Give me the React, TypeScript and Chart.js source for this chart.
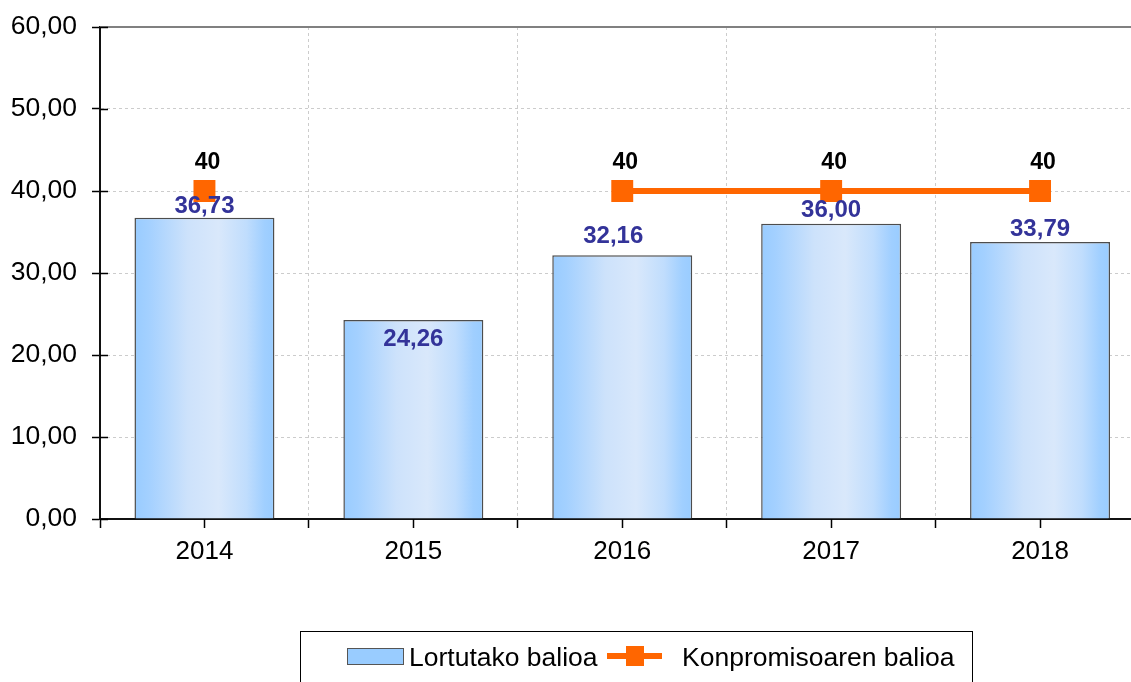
import React, { useEffect, useRef } from 'react';
import { Chart, registerables } from 'chart.js';

Chart.register(...registerables);

// ---- data ----
const categories = ['2014', '2015', '2016', '2017', '2018'];
const achievedValues = [36.73, 24.26, 32.16, 36.0, 33.79];
const commitmentValues: (number | null)[] = [40, null, 40, 40, 40];
const seriesNames = ['Lortutako balioa', 'Konpromisoaren balioa'];
const yMin = 0;
const yMax = 60;
const yStep = 10;

// ---- style / layout ----
const FONT = "'Liberation Sans', Arial, sans-serif";
const ORANGE = '#ff6600';
const LABEL_BLUE = '#333399';
// label shift [dx, dy] relative to top-centre of each bar (text centre)
const barLabelShift: [number, number][] = [
  [0, -11],
  [0, 19],
  [-9, -19],
  [0, -13.5],
  [0, -13],
];

const fmt = (v: number) => v.toFixed(2).replace('.', ',');

function barGradient(ctx: CanvasRenderingContext2D, x0: number, x1: number) {
  const g = ctx.createLinearGradient(x0, 0, x1, 0);
  g.addColorStop(0, '#99ccff');
  g.addColorStop(0.1, '#a3d0ff');
  g.addColorStop(0.38, '#cde2fb');
  g.addColorStop(0.6, '#d9e8fb');
  g.addColorStop(0.8, '#c0ddfd');
  g.addColorStop(0.93, '#a0cfff');
  g.addColorStop(1, '#99ccff');
  return g;
}

const decorPlugin = {
  id: 'decor',
  afterDatasetsDraw(chart: any) {
    const { ctx, scales } = chart;
    const x = scales.x;
    const y = scales.y;
    ctx.save();
    // bar value labels
    ctx.font = `bold 24px ${FONT}`;
    ctx.textAlign = 'center';
    ctx.textBaseline = 'middle';
    ctx.fillStyle = LABEL_BLUE;
    achievedValues.forEach((v, i) => {
      const px = x.getPixelForValue(i) + barLabelShift[i][0];
      const py = y.getPixelForValue(v) + barLabelShift[i][1];
      ctx.fillText(fmt(v), px, py);
    });
    // commitment labels
    ctx.font = `bold 23px ${FONT}`;
    ctx.fillStyle = '#000';
    commitmentValues.forEach((v, i) => {
      if (v == null) return;
      const px = x.getPixelForValue(i) + 3;
      const py = y.getPixelForValue(v) - 28;
      ctx.fillText(String(v), px, py);
    });
    ctx.restore();
  },
  afterDraw(chart: any) {
    const { ctx, scales, chartArea } = chart;
    const x = scales.x;
    const y = scales.y;
    ctx.save();
    // top border of plot
    ctx.strokeStyle = '#808080';
    ctx.lineWidth = 2;
    ctx.beginPath();
    ctx.moveTo(chartArea.left, chartArea.top);
    ctx.lineTo(chartArea.right, chartArea.top);
    ctx.stroke();
    // inner halves of y ticks (cross ticks)
    ctx.strokeStyle = '#000';
    ctx.lineWidth = 1.5;
    for (let v = yMin; v <= yMax; v += yStep) {
      const py = Math.round(y.getPixelForValue(v)) + 0.5;
      ctx.beginPath();
      ctx.moveTo(chartArea.left, py);
      ctx.lineTo(chartArea.left + 8, py);
      ctx.stroke();
    }
    // centre ticks on x axis
    categories.forEach((_, i) => {
      const px = Math.round(x.getPixelForValue(i)) + 0.5;
      ctx.beginPath();
      ctx.moveTo(px, chartArea.bottom);
      ctx.lineTo(px, chartArea.bottom + 9);
      ctx.stroke();
    });

    // legend
    const bx = 300.5;
    const by = 631.5;
    ctx.fillStyle = '#fff';
    ctx.fillRect(bx, by, 672, 60);
    ctx.strokeStyle = '#000';
    ctx.lineWidth = 1;
    ctx.strokeRect(bx, by, 672, 60);
    // bar swatch
    ctx.fillStyle = '#99ccff';
    ctx.fillRect(347, 648, 56, 16);
    ctx.strokeStyle = '#555';
    ctx.strokeRect(347.5, 648.5, 56, 16);
    // line swatch
    ctx.strokeStyle = ORANGE;
    ctx.lineWidth = 6;
    ctx.beginPath();
    ctx.moveTo(607, 656);
    ctx.lineTo(662, 656);
    ctx.stroke();
    ctx.fillStyle = ORANGE;
    ctx.fillRect(626, 646, 18, 20);
    // legend text
    ctx.fillStyle = '#000';
    ctx.font = `26.5px ${FONT}`;
    ctx.textAlign = 'left';
    ctx.textBaseline = 'alphabetic';
    ctx.fillText(seriesNames[0], 409, 666);
    ctx.fillText(seriesNames[1], 682, 666);
    ctx.restore();
  },
};

export default function App() {
  const canvasRef = useRef<HTMLCanvasElement | null>(null);

  useEffect(() => {
    document.body.style.margin = '0';
    document.body.style.overflow = 'hidden';
    const canvas = canvasRef.current;
    if (!canvas) return;
    const chart = new Chart(canvas, {
      type: 'bar',
      data: {
        labels: categories,
        datasets: [
          {
            type: 'line',
            label: seriesNames[1],
            data: commitmentValues,
            borderColor: ORANGE,
            backgroundColor: ORANGE,
            borderWidth: 6,
            pointStyle: 'rect',
            pointRadius: 15.5,
            pointHoverRadius: 15.5,
            pointBackgroundColor: ORANGE,
            pointBorderWidth: 0,
            spanGaps: false,
            order: 0,
          } as any,
          {
            type: 'bar',
            label: seriesNames[0],
            data: achievedValues,
            backgroundColor: (c: any) => {
              const ch = c.chart;
              const xs = ch.scales && ch.scales.x;
              if (!xs || c.dataIndex == null) return '#99ccff';
              const cx = xs.getPixelForValue(c.dataIndex);
              const w = (xs.width / categories.length) * 0.67;
              if (!isFinite(cx) || !isFinite(w) || w <= 0) return '#99ccff';
              return barGradient(ch.ctx, cx - w / 2, cx + w / 2);
            },
            borderColor: '#4d4d4d',
            borderWidth: 1.5,
            barPercentage: 0.67,
            categoryPercentage: 1.0,
            order: 1,
          } as any,
        ],
      },
      options: {
        responsive: false,
        animation: false,
        devicePixelRatio: 1,
        layout: { padding: { top: 27, left: 0, right: 0, bottom: 0 } },
        plugins: {
          legend: { display: false },
          tooltip: { enabled: false },
          title: { display: false },
        },
        scales: {
          x: {
            type: 'category',
            offset: true,
            grid: {
              display: true,
              offset: true,
              color: '#cccccc',
              lineWidth: 1,
              drawTicks: true,
              tickLength: 9,
              tickColor: '#000',
              tickWidth: 1.5,
            },
            border: { display: true, color: '#111', width: 2, dash: [3, 3] },
            ticks: {
              color: '#000',
              font: { family: FONT, size: 26 },
              padding: 8,
              maxRotation: 0,
              autoSkip: false,
            },
            afterFit: (s: any) => {
              s.height = 163;
              s.paddingLeft = 0;
              s.paddingRight = 0;
            },
          },
          y: {
            min: yMin,
            max: yMax,
            grid: {
              color: '#cccccc',
              lineWidth: 1,
              drawTicks: true,
              tickLength: 8,
              tickColor: '#000',
              tickWidth: 1.5,
            },
            border: { display: true, color: '#111', width: 2, dash: [3, 3] },
            ticks: {
              stepSize: yStep,
              color: '#000',
              font: { family: FONT, size: 26.5 },
              padding: 15,
              callback: (v: any) => fmt(Number(v)),
            },
            afterFit: (s: any) => {
              s.width = 100;
              s.paddingTop = 0;
              s.paddingBottom = 0;
            },
          },
        },
      },
      plugins: [decorPlugin],
    });
    return () => chart.destroy();
  }, []);

  return (
    <div style={{ width: 1131, height: 682, overflow: 'hidden', position: 'relative', background: '#fff' }}>
      <canvas
        ref={canvasRef}
        width={1160}
        height={682}
        style={{ position: 'absolute', left: 0, top: 0, width: 1160, height: 682 }}
      />
    </div>
  );
}
